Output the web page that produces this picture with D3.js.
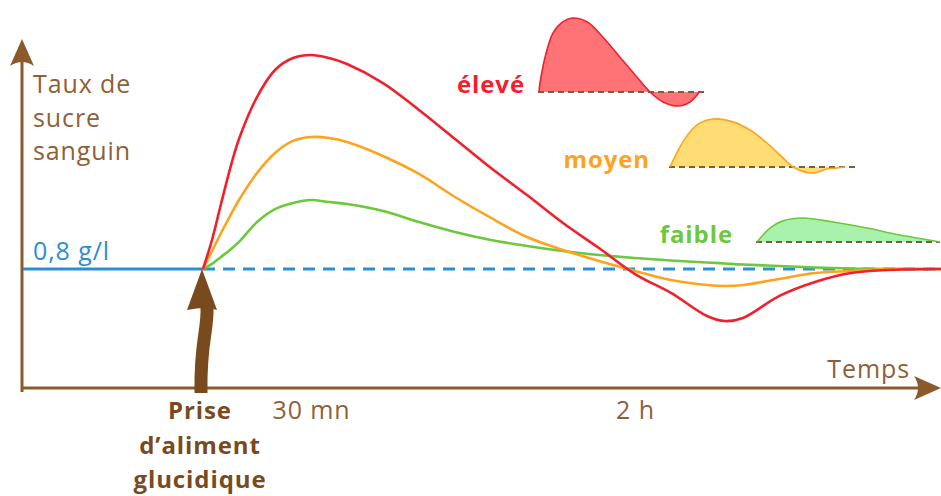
<!DOCTYPE html>
<html><head><meta charset="utf-8">
<script src="https://cdn.jsdelivr.net/npm/d3@7"></script>
<style>
body{margin:0;background:#fff}
svg{display:block}
text{font-family:'Open Sans',sans-serif;letter-spacing:0.9px}
</style>
</head><body>
<svg id="c" width="941" height="496"></svg>
<script>
// ---- data (time in minutes after the meal, blood sugar in g/l) ----
const minutes = [0,2.5,5,7.5,10,15,20,25,30,35,40,50,60,70,80,90,100,110,120,130,140,145,150,160,170,180,190,205];
const highGI  = [0.800,0.995,1.237,1.472,1.674,1.956,2.138,2.218,2.239,2.218,2.178,2.050,1.869,1.674,1.479,1.297,1.109,0.941,0.766,0.639,0.484,0.450,0.471,0.618,0.713,0.773,0.793,0.800];
const midGI   = [0.800,0.921,1.042,1.156,1.264,1.445,1.580,1.661,1.687,1.681,1.654,1.560,1.439,1.284,1.143,1.015,0.928,0.854,0.787,0.726,0.692,0.686,0.692,0.733,0.773,0.787,0.800,0.800];
const lowGI   = [0.800,0.834,0.881,0.928,0.982,1.116,1.203,1.244,1.264,1.250,1.237,1.190,1.116,1.049,0.995,0.955,0.921,0.894,0.874,0.857,0.844,0.837,0.830,0.820,0.810,0.803,0.800,0.800];
const baseline = 0.8;
const tickValues = [30,120];
const tickLabels = ["30 mn","2 h"];
const yTitle = ["Taux de","sucre","sanguin"];
const mealLabel = ["Prise","d\u2019aliment","glucidique"];
// legend mini-curves (relative time 0..1, relative height, peak = 1)
const legHighT = [0,0.006,0.05,0.088,0.15,0.206,0.30,0.40,0.506,0.613,0.694,0.775,0.869,0.944,0.988,1.0];
const legHighV = [0,0.12,0.57,0.80,0.95,1.0,0.95,0.74,0.47,0.20,0,-0.135,-0.19,-0.135,-0.04,0];
const legMidT  = [0,0.057,0.114,0.171,0.246,0.36,0.457,0.554,0.646,0.703,0.811,0.897,0.954,1.0];
const legMidV  = [0,0.42,0.73,0.92,1.0,0.94,0.77,0.50,0.19,0,-0.125,-0.04,-0.02,0];
const legLowT  = [0,0.071,0.142,0.251,0.415,0.601,0.781,1.0];
const legLowV  = [0,0.58,0.88,1.0,0.83,0.58,0.29,0];
const legendNames = ["\u00e9lev\u00e9","moyen","faible"];

// ---- layout ----
const svg = d3.select("#c");
const brown = "#8b5a2b", txtBrown = "#8f6038", darkBrown = "#7a4a1f";
const blue = "#2a8fd4";
const colors = ["#f2202c","#ffa31f","#6cc83c"];
const fills  = ["#ff7376","#ffdc74","#a9f2ac"];
const x = d3.scaleLinear().domain([0,205]).range([203,941]);
const y = d3.scaleLinear().domain([0,0.8]).range([388,269]);
const axisX0 = 22, axisY0 = 388;
const FS = 25;

// axes
const axes = svg.append("g").attr("stroke",brown).attr("fill",brown);
axes.append("line").attr("x1",axisX0).attr("x2",axisX0).attr("y1",392).attr("y2",54).attr("stroke-width",3);
axes.append("path").attr("stroke","none")
  .attr("d",`M${axisX0},39 L${axisX0+12},66 Q${axisX0},58 ${axisX0-12},66 Z`);
axes.append("line").attr("x1",axisX0-1).attr("x2",926).attr("y1",axisY0).attr("y2",axisY0).attr("stroke-width",3);
axes.append("path").attr("stroke","none")
  .attr("d",`M941,${axisY0} L914,${axisY0-12} Q922,${axisY0} 914,${axisY0+12} Z`);

// tick labels on time axis
const xAxis = d3.axisBottom(x).tickValues(tickValues).tickFormat((d,i)=>tickLabels[i]).tickSize(0).tickPadding(0);
const gx = svg.append("g").attr("transform",`translate(0,${axisY0})`).call(xAxis);
gx.select(".domain").remove();
gx.selectAll("text").attr("fill",txtBrown).attr("font-size",FS).attr("font-family","'Open Sans',sans-serif")
  .attr("dy",null).attr("y",31);

svg.append("text").attr("x",910).attr("y",378).attr("text-anchor","end")
  .attr("fill",txtBrown).attr("font-size",FS).text("Temps");

// y title
svg.append("g").selectAll("text").data(yTitle).join("text")
  .attr("x",33).attr("y",(d,i)=>93+i*33.5).attr("fill",txtBrown).attr("font-size",FS).text(d=>d);

// baseline 0.8 g/l
svg.append("line").attr("x1",axisX0+1).attr("x2",x(0)).attr("y1",y(baseline)).attr("y2",y(baseline))
  .attr("stroke",blue).attr("stroke-width",3);
svg.append("line").attr("x1",x(0)).attr("x2",x(205)).attr("y1",y(baseline)).attr("y2",y(baseline))
  .attr("stroke",blue).attr("stroke-width",3).attr("stroke-dasharray","12,8");
svg.append("text").attr("x",33).attr("y",y(baseline)-9).attr("fill",blue).attr("font-size",FS).text("0,8 g/l");

// curves
const series = [lowGI, midGI, highGI];
const seriesColors = [colors[2], colors[1], colors[0]];
const line = d3.line().x((d,i)=>x(minutes[i])).y(d=>y(d)).curve(d3.curveCatmullRom.alpha(0.5));
svg.append("g").selectAll("path").data(series).join("path")
  .attr("d",line).attr("fill","none").attr("stroke",(d,i)=>seriesColors[i]).attr("stroke-width",2.6);

// meal arrow
const ax = x(0), ay = y(baseline);
svg.append("path").attr("fill","none").attr("stroke",darkBrown).attr("stroke-width",13)
  .attr("d",`M${ax+4},${ay+38} C${ax+5},${ay+62} ${ax-3},${ay+72} ${ax-2},${ay+124}`);
svg.append("path").attr("fill",darkBrown)
  .attr("d",`M${ax-1},${ay} L${ax+14},${ay+41} Q${ax+4},${ay+37} ${ax-16},${ay+41} Z`);

svg.append("g").selectAll("text").data(mealLabel).join("text")
  .attr("x",ax-3).attr("y",(d,i)=>419+i*34.5).attr("text-anchor","middle")
  .attr("fill",darkBrown).attr("font-weight","bold").attr("font-size",FS-1).text(d=>d);

// legend mini charts
const legends = [
  {t:legHighT, v:legHighV, x0:539, w:160, base:92,  h:74, dashEnd:707, lx:525},
  {t:legMidT,  v:legMidV,  x0:670, w:175, base:167, h:48, dashEnd:855, lx:650},
  {t:legLowT,  v:legLowV,  x0:757, w:183, base:242, h:24, dashEnd:940, lx:733}
];
legends.forEach((L,k)=>{
  const lx = d3.scaleLinear().domain([0,1]).range([L.x0, L.x0+L.w]);
  const ly = d3.scaleLinear().domain([0,1]).range([L.base, L.base-L.h]);
  const pts = L.t.map((t,i)=>[t,L.v[i]]);
  const area = d3.area().x(d=>lx(d[0])).y0(ly(0)).y1(d=>ly(d[1])).curve(d3.curveCatmullRom.alpha(0.5));
  const ln = d3.line().x(d=>lx(d[0])).y(d=>ly(d[1])).curve(d3.curveCatmullRom.alpha(0.5));
  svg.append("path").attr("d",area(pts)).attr("fill",fills[k]);
  svg.append("line").attr("x1",L.x0-1).attr("x2",L.dashEnd).attr("y1",L.base).attr("y2",L.base)
    .attr("stroke","#7d5c3c").attr("stroke-width",2).attr("stroke-dasharray","6,4");
  svg.append("path").attr("d",ln(pts)).attr("fill","none").attr("stroke",colors[k]).attr("stroke-width",1.6);
  svg.append("text").attr("x",L.lx).attr("y",L.base+1).attr("text-anchor","end")
    .attr("fill",colors[k]).attr("font-weight","bold").attr("font-size",FS-1).text(legendNames[k]);
});
</script>
</body></html>
